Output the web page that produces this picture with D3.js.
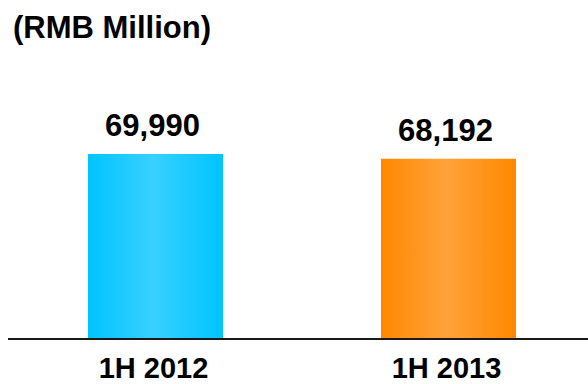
<!DOCTYPE html>
<html>
<head>
<meta charset="utf-8">
<script src="https://cdn.jsdelivr.net/npm/d3@7"></script>
<style>
  html, body { margin: 0; padding: 0; background: #fff; }
  svg { display: block; }
  text { font-family: "Liberation Sans", Arial, sans-serif; font-weight: bold; fill: #000; }
</style>
</head>
<body>
<svg id="chart" width="588" height="384"></svg>
<script>
// Revenue by period, RMB million
const categories = ["1H 2012", "1H 2013"];
const values = [69990, 68192];
const valueLabels = ["69,990", "68,192"];
const unitLabel = "(RMB Million)";

const barColors = [
  { edge: "#00c4ff", mid: "#38d0ff" },
  { edge: "#ff8800", mid: "#ffa23a" }
];

const W = 588, H = 384;
const baseY = 339;

const svg = d3.select("#chart");

const x = d3.scaleBand()
  .domain(categories)
  .range([9, 595])
  .paddingInner(0.539)
  .paddingOuter(0.2695);

const y = d3.scaleLinear()
  .domain([0, 69990])
  .range([baseY, 154]);

// horizontal shading that brightens toward the middle of each bar
const defs = svg.append("defs");
barColors.forEach((c, i) => {
  const g = defs.append("linearGradient")
    .attr("id", "barGrad" + i)
    .attr("x1", "0%").attr("x2", "100%")
    .attr("y1", "0%").attr("y2", "0%");
  g.append("stop").attr("offset", "0%").attr("stop-color", c.edge);
  g.append("stop").attr("offset", "48%").attr("stop-color", c.mid);
  g.append("stop").attr("offset", "100%").attr("stop-color", c.edge);
});

svg.append("text")
  .attr("x", 13)
  .attr("y", 38)
  .attr("font-size", 31)
  .text(unitLabel);

svg.selectAll("rect.bar")
  .data(values)
  .join("rect")
  .attr("class", "bar")
  .attr("x", (d, i) => x(categories[i]))
  .attr("width", x.bandwidth())
  .attr("y", d => y(d))
  .attr("height", d => baseY - y(d))
  .attr("fill", (d, i) => `url(#barGrad${i})`);

svg.selectAll("text.value")
  .data(values)
  .join("text")
  .attr("class", "value")
  .attr("text-anchor", "middle")
  .attr("font-size", 31)
  .attr("x", (d, i) => x(categories[i]) + x.bandwidth() / 2 - 3)
  .attr("y", d => y(d) - 18)
  .text((d, i) => valueLabels[i]);

// baseline axis with category labels
const axis = svg.append("g")
  .attr("transform", `translate(0,${baseY})`)
  .call(d3.axisBottom(x).tickSize(0).tickPadding(0));
axis.select(".domain").remove();
axis.append("line")
  .attr("x1", 8).attr("x2", W)
  .attr("y1", 0).attr("y2", 0)
  .attr("stroke", "#1a1a1a")
  .attr("stroke-width", 2);
axis.selectAll(".tick text")
  .attr("font-size", 29)
  .attr("font-family", "'Liberation Sans', Arial, sans-serif")
  .attr("font-weight", "bold")
  .attr("fill", "#000")
  .attr("dy", null)
  .attr("y", 39)
  .attr("dx", -2);
</script>
</body>
</html>
